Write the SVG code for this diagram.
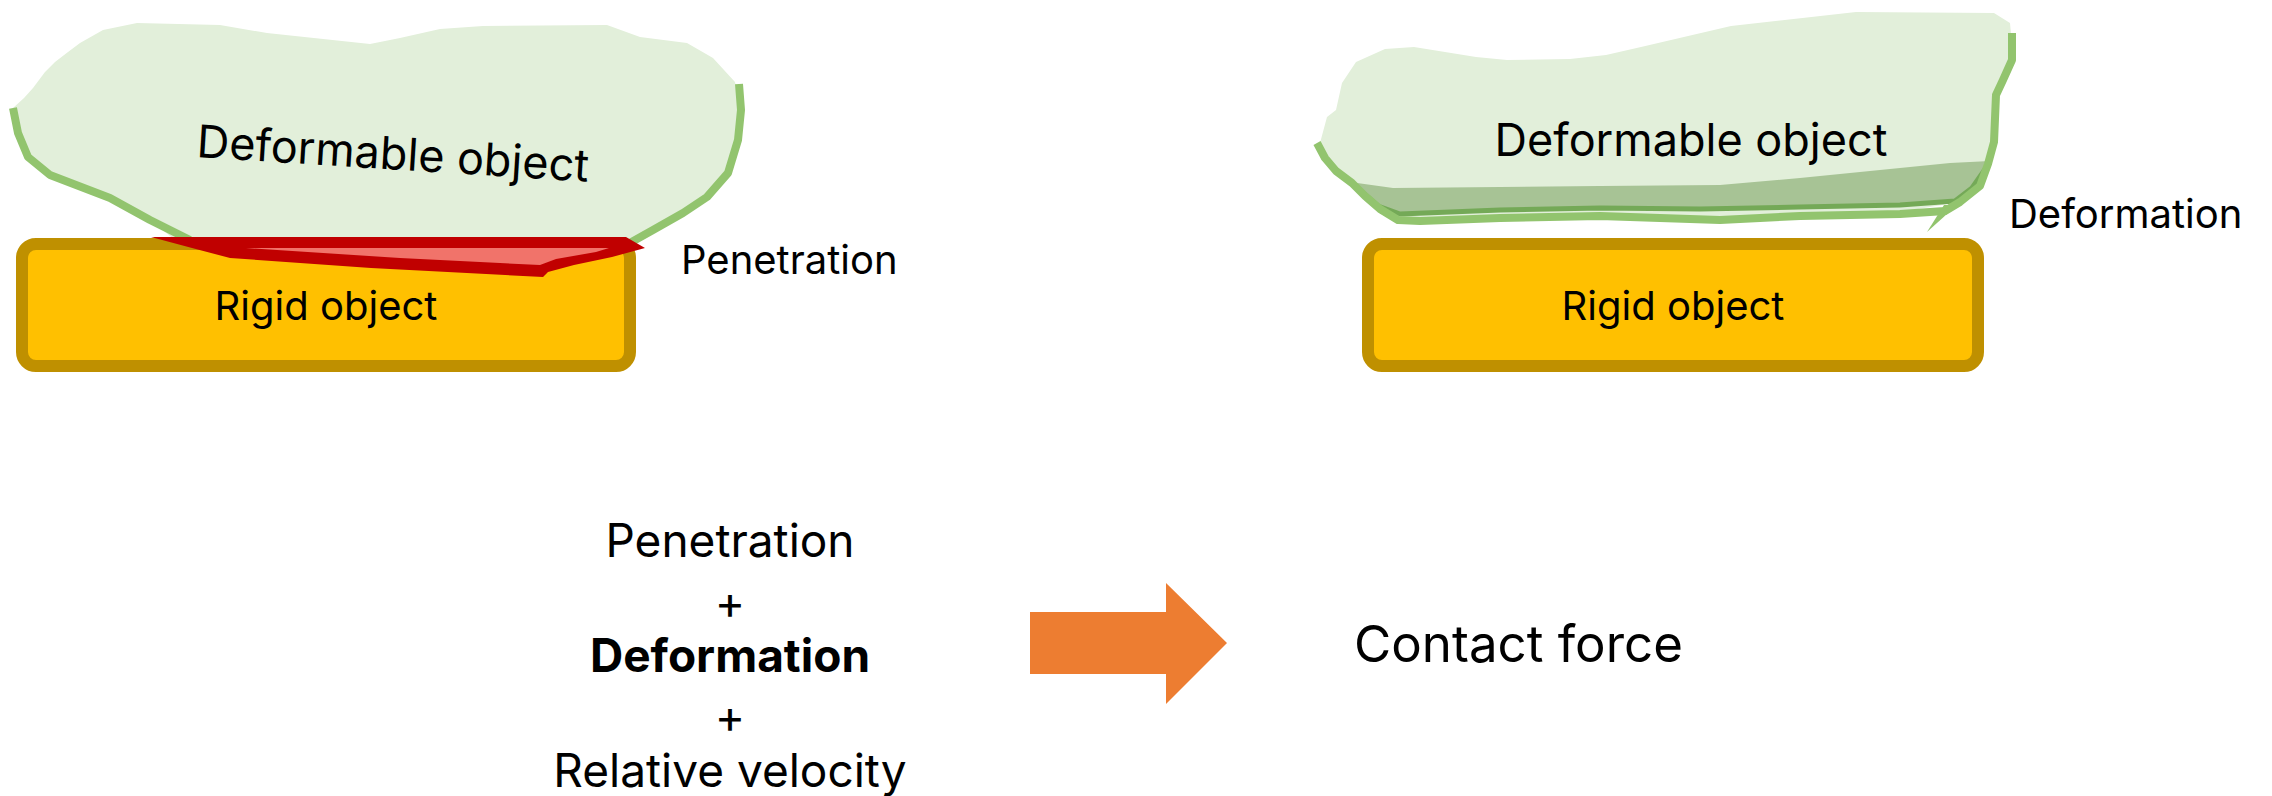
<svg xmlns="http://www.w3.org/2000/svg" width="2272" height="796" viewBox="0 0 2272 796">
  <style>
    text { font-family: Inter, "Noto Sans", "Liberation Sans", sans-serif; fill: #000; }
    .blob { fill: #E2EFDA; stroke: none; }
    .edge { fill: none; stroke: #92C46E; stroke-width: 8; stroke-linejoin: round; stroke-linecap: butt; }
    .rigid { fill: #FFC000; stroke: #BF9000; stroke-width: 12; }
    .lbl { font-size: 40px; }
    .big { font-size: 45px; }
    .eq { font-size: 46px; }
  </style>

  <!-- Left: deformable body pressed into the rigid block -->
  <g id="left-deformable">
    <path class="blob" d="M13,108 L24,98 L33,88 L45,72 L55,62 L68,52 L80,43 L103,30 L137,23 L220,25 L267,33 L370,44 L400,38 L440,29 L483,26 L607,25 L640,37 L687,43 L713,58 L735,82 L740,110 L738,140 L728,173 L707,197 L683,213 L653,230 L633,240 L175,240 L150,220 L110,198 L50,175 L28,157 L18,133 Z"/>
    <path class="edge" d="M13,108 L18,133 L28,157 L50,175 L110,198 L150,220 L190,240"/>
    <path class="edge" d="M739,84 L741,110 L738,140 L728,173 L707,197 L683,213 L653,230 L628,244"/>
    <text class="big" x="196" y="157" transform="rotate(3.6 196 157)">Deformable object</text>
  </g>

  <g id="left-rigid">
    <rect class="rigid" x="22" y="244" width="608" height="122" rx="14"/>
    <text class="lbl" x="326" y="320" text-anchor="middle">Rigid object</text>
  </g>

  <g id="penetration-region">
    <polygon fill="#C00000" points="151,237 626,237 645,248 612,257 574,265 548,272 543,277 371,268 230,258 192,248"/>
    <polygon fill="#F1736A" points="246,248 609,248 596,252 556,259 540,265 400,258"/>
  </g>

  <g id="penetration-label">
    <text class="lbl" x="681" y="274">Penetration</text>
  </g>

  <!-- Right: deformable body resting on the rigid block -->
  <g id="right-deformable">
    <path class="blob" d="M1320,143 L1327,117 L1336,110 L1342,83 L1356,62 L1385,49 L1414,47 L1476,57 L1507,60 L1570,59 L1606,55 L1641,47 L1731,26 L1856,12 L1994,13 L2010,23 L2011,34 L2012,60 L2001,83 L1994,90 L1992,140 L1988,162 L1982,182 L1957,202 L1948,204 L1900,212 L1800,214 L1720,219 L1600,215 L1500,217 L1410,222 L1397,220 L1377,205 L1363,192 L1350,180 L1333,167 Z"/>
    <polygon fill="#A7C395" points="1350,182 1393,188 1500,187 1600,186 1720,185 1800,178 1870,171 1950,163 1990,161 1985,172 1970,190 1955,201 1900,206 1800,208 1700,210 1600,209 1500,211 1400,216 1375,205 1360,192"/>
    <path fill="none" stroke="#74A957" stroke-width="5" stroke-linejoin="round" d="M1362,192 L1378,206 L1400,214 L1500,210 L1600,208 L1700,209 L1800,207 L1900,205 L1955,201 L1972,188 L1986,168 L1990,162"/>
    <path class="edge" stroke-width="9" d="M1317,143 L1325,158 L1336,171 L1352,183 L1365,196 L1380,209 L1398,220 L1420,221 L1500,218 L1600,216 L1720,220 L1800,216 L1900,214 L1945,211 L1960,202 L1980,186 L1988,164 L1994,142 L1996,95 L2003,80 L2012,60 L2012,33"/>
    <polygon fill="#92C46E" points="1944,205 1957,205 1927,232"/>
    <text class="big" x="1691" y="156" text-anchor="middle">Deformable object</text>
  </g>

  <g id="right-rigid">
    <rect class="rigid" x="1368" y="244" width="610" height="122" rx="14"/>
    <text class="lbl" x="1673" y="320" text-anchor="middle">Rigid object</text>
  </g>

  <g id="deformation-label">
    <text class="lbl" x="2009" y="228">Deformation</text>
  </g>

  <!-- Contact model inputs -->
  <g id="inputs" text-anchor="middle">
    <text class="eq" x="730" y="557">Penetration</text>
    <text class="eq" x="730" y="619">+</text>
    <text class="eq" x="730" y="672" font-weight="bold">Deformation</text>
    <text class="eq" x="730" y="733">+</text>
    <text class="eq" x="730" y="787">Relative velocity</text>
  </g>

  <g id="connectors">
    <polygon fill="#ED7D31" points="1030,612 1166,612 1166,583 1227,643 1166,704 1166,674 1030,674"/>
  </g>

  <g id="contact-force">
    <text x="1354" y="662" font-size="51">Contact force</text>
  </g>
</svg>
